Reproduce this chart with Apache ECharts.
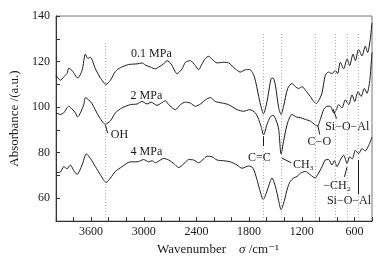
<!DOCTYPE html>
<html>
<head>
<meta charset="utf-8">
<script src="https://cdn.jsdelivr.net/npm/echarts@6/dist/echarts.min.js"></script>
<style>
  html, body { margin: 0; padding: 0; background: #fff; }
  #chart { width: 388px; height: 261px; }
</style>
</head>
<body>
<div id="chart"></div>
<script>
// spectra: wavenumber (cm-1) and absorbance (a.u.)
const wn01 = [4000, 3950, 3912, 3874, 3855, 3817, 3753, 3703, 3665, 3639, 3608, 3551, 3494, 3429, 3380, 3323, 3267, 3172, 3076, 3019, 2982, 2925, 2868, 2830, 2773, 2735, 2689, 2621, 2564, 2526, 2469, 2412, 2375, 2336, 2298, 2261, 2222, 2165, 2090, 2033, 1957, 1900, 1843, 1794, 1740, 1691, 1660, 1636, 1596, 1550, 1527, 1501, 1463, 1436, 1407, 1361, 1311, 1273, 1236, 1197, 1160, 1103, 1065, 1034, 1008, 970, 932, 894, 856, 818, 792, 761, 723, 684, 655, 616, 590, 552, 514, 476, 450, 420, 400]
const abs01 = [114.0, 111.8, 113.3, 114.7, 117.1, 116.1, 112.8, 116.1, 123.3, 121.4, 121.8, 116.8, 112.8, 110.0, 111.8, 115.7, 117.3, 118.7, 119.0, 119.4, 118.5, 117.6, 116.8, 117.6, 119.0, 120.4, 119.0, 114.7, 116.8, 119.7, 120.4, 118.2, 116.4, 119.0, 121.4, 122.3, 121.1, 119.4, 119.7, 119.4, 116.8, 115.4, 116.4, 116.5, 113.3, 104.7, 99.5, 97.1, 102.5, 112.5, 112.8, 109.7, 99.7, 96.8, 100.4, 108.2, 110.4, 109.0, 108.2, 109.0, 107.5, 104.7, 102.5, 101.6, 102.8, 106.1, 114.0, 115.4, 114.7, 116.1, 114.7, 119.7, 116.8, 121.1, 118.2, 123.3, 120.4, 125.4, 122.5, 126.8, 124.0, 129.7, 137.0]

const wn2 = [4000, 3950, 3912, 3874, 3855, 3817, 3779, 3753, 3722, 3684, 3665, 3628, 3589, 3514, 3437, 3380, 3323, 3247, 3153, 3076, 3019, 2962, 2917, 2849, 2800, 2754, 2716, 2640, 2583, 2526, 2470, 2412, 2350, 2298, 2242, 2185, 2108, 2033, 1937, 1862, 1794, 1729, 1690, 1660, 1636, 1596, 1559, 1527, 1490, 1463, 1436, 1399, 1361, 1311, 1262, 1216, 1160, 1103, 1046, 1020, 989, 951, 912, 875, 837, 806, 780, 741, 704, 666, 627, 597, 559, 525, 487, 457, 427, 400]
const abs2 = [97.5, 96.8, 97.5, 99.7, 100.4, 99.2, 97.5, 95.7, 97.5, 101.1, 104.2, 103.2, 101.5, 96.1, 92.5, 94.0, 97.5, 99.7, 101.1, 101.4, 102.5, 101.4, 102.2, 100.8, 101.8, 102.8, 101.1, 98.9, 101.1, 102.2, 101.8, 100.4, 101.5, 103.2, 104.2, 102.5, 101.8, 101.1, 98.9, 98.2, 98.9, 97.5, 94.5, 91.0, 87.8, 92.5, 95.7, 96.5, 94.0, 90.3, 79.5, 86.8, 93.2, 96.8, 95.7, 95.4, 94.6, 93.9, 92.2, 91.8, 94.6, 98.9, 100.4, 100.4, 97.5, 98.9, 101.1, 99.7, 103.2, 101.1, 105.4, 102.5, 106.8, 104.7, 108.2, 106.1, 111.1, 124.0]

const wn4 = [4000, 3950, 3912, 3874, 3836, 3798, 3760, 3703, 3654, 3608, 3551, 3494, 3429, 3380, 3323, 3247, 3153, 3076, 3001, 2944, 2906, 2868, 2811, 2773, 2716, 2659, 2602, 2545, 2488, 2431, 2375, 2325, 2279, 2222, 2165, 2090, 2014, 1938, 1881, 1805, 1755, 1710, 1680, 1640, 1596, 1559, 1540, 1501, 1463, 1436, 1399, 1361, 1330, 1293, 1254, 1216, 1160, 1103, 1046, 1020, 969, 932, 894, 856, 829, 799, 761, 723, 684, 655, 624, 590, 552, 514, 476, 438, 400]
const abs4 = [71.3, 71.5, 73.9, 73.0, 74.6, 72.2, 70.5, 74.6, 79.5, 77.5, 73.9, 70.3, 67.0, 68.9, 71.8, 73.9, 76.0, 76.0, 77.0, 76.0, 76.5, 75.6, 76.8, 77.5, 76.8, 75.3, 73.5, 75.1, 77.0, 76.8, 75.6, 77.0, 78.5, 78.2, 76.8, 76.5, 76.0, 74.6, 73.2, 74.2, 73.2, 68.2, 63.9, 59.4, 63.2, 67.5, 68.9, 65.3, 58.9, 55.0, 58.9, 64.7, 67.5, 68.9, 69.6, 71.0, 71.8, 70.3, 68.9, 70.3, 73.9, 76.8, 77.0, 74.6, 76.5, 73.9, 76.8, 78.9, 75.3, 78.2, 77.3, 81.1, 79.6, 81.8, 80.8, 83.2, 86.8]

// dotted guide lines (wavenumber, top value)
const guideWn = [3440, 1638, 1430, 1046, 818, 686, 555]
const guideTop = [129, 133, 133, 133, 133, 133, 133]

// text notes: label, wavenumber, absorbance
const noteText = ['0.1 MPa', '2 MPa', '4 MPa', 'OH', 'C=C', 'CH₃', 'C−O', 'Si−O−Al', '−CH₂', 'Si−O−Al']
const noteWn = [2913, 2970, 2970, 3278, 1683, 1182, 1000, 682, 798, 662]
const noteAbs = [123.3, 105.1, 80.3, 87.8, 77.8, 74.8, 84.6, 91.4, 65.6, 58.9]

// arrows: from [wn, abs] to [wn, abs]
const arrowFrom = [[3437, 92.2], [1638, 87.2], [1320, 75.6], [1019, 92.2], [844, 99.2], [685, 73.6], [552, 76.8]]
const arrowTo = [[3412, 88.6], [1638, 83.0], [1425, 77.6], [995, 88.0], [804, 95.0], [714, 69.4], [552, 61.8]]

const serif = '"Liberation Serif", "DejaVu Serif", serif'
const ink = '#1a1a1a'

const zip = (xs, ys) => xs.map((x, i) => [x, ys[i]])

const chart = echarts.init(document.getElementById('chart'), null, { renderer: 'canvas' })

const lineSeries = (data) => ({
    type: 'line',
    data: data,
    showSymbol: false,
    smooth: 0.25,
    lineStyle: { color: ink, width: 1 },
    silent: true,
    animation: false
})

const s01 = lineSeries(zip(wn01, abs01))
s01.markLine = {
    silent: true,
    symbol: 'none',
    animation: false,
    label: { show: false },
    lineStyle: { color: '#ababab', type: [1, 2], width: 1 },
    data: guideWn.map((w, i) => [{ coord: [w, 50] }, { coord: [w, guideTop[i]] }])
}

const s2 = lineSeries(zip(wn2, abs2))
s2.markLine = {
    silent: true,
    symbol: ['none', 'arrow'],
    symbolSize: [0, 8],
    animation: false,
    label: { show: false },
    itemStyle: { color: ink },
    lineStyle: { color: ink, type: 'solid', width: 1 },
    data: arrowFrom.map((p, i) => [{ coord: p }, { coord: arrowTo[i] }])
}

const s4 = lineSeries(zip(wn4, abs4))
s4.markPoint = {
    silent: true,
    animation: false,
    symbol: 'circle',
    symbolSize: 0,
    data: noteText.map((t, i) => ({
        coord: [noteWn[i], noteAbs[i]],
        label: {
            show: true,
            position: 'inside',
            formatter: t,
            color: ink,
            fontSize: 12,
            fontFamily: serif
        }
    }))
}

chart.setOption({
    animation: false,
    grid: {
        left: 56,
        right: 16,
        top: 16,
        bottom: 36,
        show: true,
        borderColor: '#777',
        borderWidth: 1
    },
    xAxis: {
        type: 'value',
        inverse: true,
        min: 400,
        max: 4000,
        interval: 200,
        name: 'Wavenumber    {i|σ} /cm⁻¹',
        nameLocation: 'middle',
        nameGap: 20,
        nameTextStyle: {
            color: ink,
            fontSize: 13,
            fontFamily: serif,
            padding: [0, 0, 0, 8],
            rich: { i: { fontStyle: 'italic', fontSize: 13, fontFamily: serif, color: ink } }
        },
        axisLine: { lineStyle: { color: '#333', width: 1 } },
        axisTick: { inside: true, length: 4, lineStyle: { color: '#333' } },
        axisLabel: {
            color: ink,
            fontSize: 12,
            fontFamily: serif,
            margin: 5,
            formatter: v => (v % 600 === 0 && v >= 600 && v <= 3600) ? String(v) : ''
        },
        splitLine: { show: false }
    },
    yAxis: {
        type: 'value',
        min: 50,
        max: 140,
        interval: 10,
        name: 'Absorbance /(a.u.)',
        nameLocation: 'middle',
        nameGap: 33,
        nameTextStyle: { color: ink, fontSize: 13, fontFamily: serif },
        axisLine: { show: true, lineStyle: { color: '#333', width: 1 } },
        axisTick: { show: true, inside: true, length: 4, lineStyle: { color: '#333' } },
        axisLabel: {
            color: ink,
            fontSize: 12,
            fontFamily: serif,
            margin: 6,
            formatter: v => (v % 20 === 0) ? String(v) : ''
        },
        splitLine: { show: false }
    },
    series: [s01, s2, s4]
})
</script>
</body>
</html>
